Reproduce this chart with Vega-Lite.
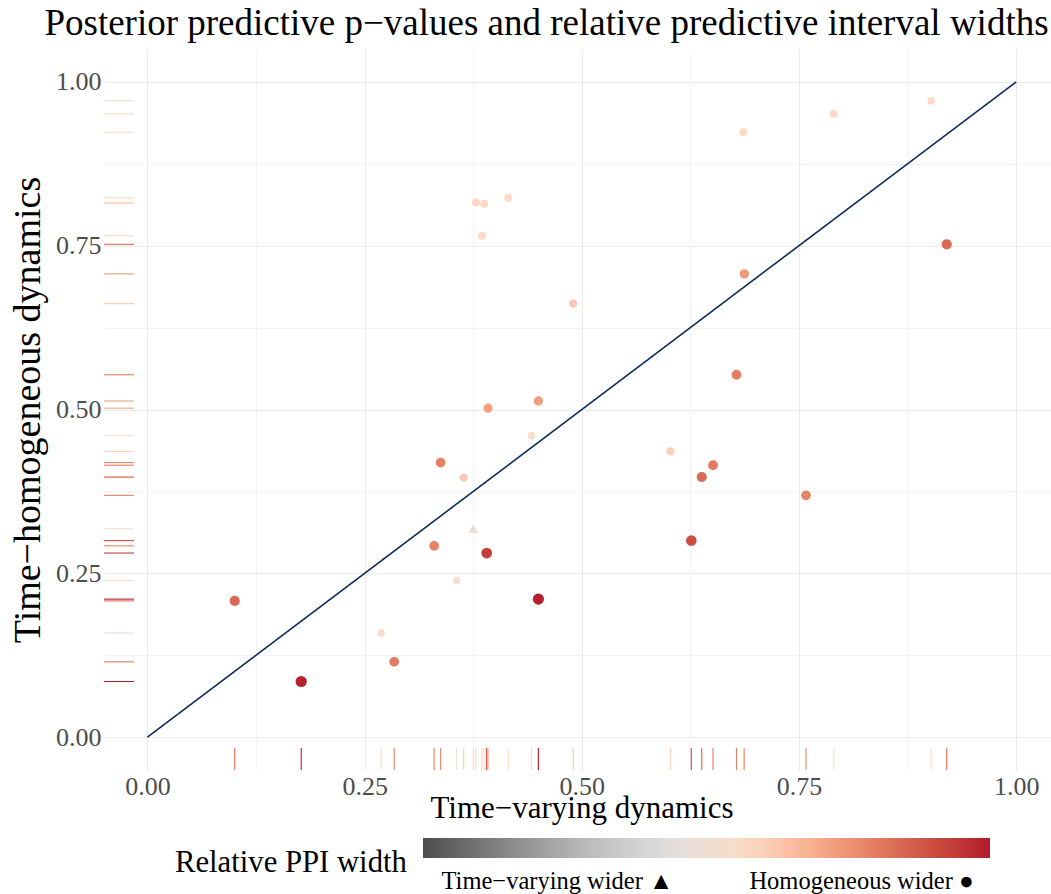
{
  "$schema": "https://vega.github.io/schema/vega-lite/v6.json",
  "width": 947,
  "height": 721,
  "autosize": {"type": "none"},
  "padding": {"left": 104, "top": 49, "right": 0, "bottom": 124},
  "background": "white",
  "title": {"text": "Posterior predictive p−values and relative predictive interval widths", "font": "Liberation Serif", "fontSize": 37, "fontWeight": "normal", "color": "black", "anchor": "middle", "dx": -31, "offset": -23, "baseline": "alphabetic"},
  "config": {"view": {"stroke": null}},
  "data": {"values": [
    {"tv": 0.1005, "th": 0.208, "rel": 0.68, "wider": "Homogeneous"},
    {"tv": 0.177, "th": 0.085, "rel": 0.97, "wider": "Homogeneous"},
    {"tv": 0.269, "th": 0.159, "rel": 0.07, "wider": "Homogeneous"},
    {"tv": 0.284, "th": 0.115, "rel": 0.6, "wider": "Homogeneous"},
    {"tv": 0.330, "th": 0.292, "rel": 0.58, "wider": "Homogeneous"},
    {"tv": 0.3375, "th": 0.419, "rel": 0.58, "wider": "Homogeneous"},
    {"tv": 0.356, "th": 0.239, "rel": 0.05, "wider": "Homogeneous"},
    {"tv": 0.364, "th": 0.396, "rel": 0.24, "wider": "Homogeneous"},
    {"tv": 0.375, "th": 0.318, "rel": -0.03, "wider": "Time-varying"},
    {"tv": 0.378, "th": 0.816, "rel": 0.16, "wider": "Homogeneous"},
    {"tv": 0.385, "th": 0.765, "rel": 0.15, "wider": "Homogeneous"},
    {"tv": 0.3875, "th": 0.814, "rel": 0.16, "wider": "Homogeneous"},
    {"tv": 0.3905, "th": 0.281, "rel": 0.86, "wider": "Homogeneous"},
    {"tv": 0.392, "th": 0.502, "rel": 0.45, "wider": "Homogeneous"},
    {"tv": 0.4154, "th": 0.823, "rel": 0.15, "wider": "Homogeneous"},
    {"tv": 0.442, "th": 0.460, "rel": 0.06, "wider": "Homogeneous"},
    {"tv": 0.450, "th": 0.513, "rel": 0.46, "wider": "Homogeneous"},
    {"tv": 0.450, "th": 0.2107, "rel": 0.98, "wider": "Homogeneous"},
    {"tv": 0.490, "th": 0.6615, "rel": 0.24, "wider": "Homogeneous"},
    {"tv": 0.602, "th": 0.436, "rel": 0.2, "wider": "Homogeneous"},
    {"tv": 0.626, "th": 0.300, "rel": 0.8, "wider": "Homogeneous"},
    {"tv": 0.638, "th": 0.397, "rel": 0.68, "wider": "Homogeneous"},
    {"tv": 0.651, "th": 0.415, "rel": 0.6, "wider": "Homogeneous"},
    {"tv": 0.686, "th": 0.923, "rel": 0.14, "wider": "Homogeneous"},
    {"tv": 0.687, "th": 0.707, "rel": 0.48, "wider": "Homogeneous"},
    {"tv": 0.678, "th": 0.553, "rel": 0.6, "wider": "Homogeneous"},
    {"tv": 0.758, "th": 0.369, "rel": 0.57, "wider": "Homogeneous"},
    {"tv": 0.790, "th": 0.951, "rel": 0.15, "wider": "Homogeneous"},
    {"tv": 0.902, "th": 0.971, "rel": 0.12, "wider": "Homogeneous"},
    {"tv": 0.920, "th": 0.752, "rel": 0.68, "wider": "Homogeneous"}
  ]},
  "layer": [
    {
      "mark": {"type": "rule", "strokeWidth": 1.1},
      "encoding": {
        "x": {"field": "tv", "type": "quantitative", "scale": {"domain": [-0.05, 1.04], "nice": false, "zero": false},
          "axis": {"title": "Time−varying dynamics", "values": [0, 0.125, 0.25, 0.375, 0.5, 0.625, 0.75, 0.875, 1], "labelExpr": "datum.value % 0.25 == 0 ? format(datum.value, '.2f') : ''", "grid": true, "gridColor": "#ebebeb", "gridWidth": {"condition": {"test": "datum.value % 0.25 == 0", "value": 1.1}, "value": 0.55}, "domain": false, "ticks": false, "labelFont": "Liberation Serif", "labelFontSize": 26, "labelColor": "#4d4d4d", "labelPadding": 3, "labelFlush": false, "labelOverlap": false, "titleFont": "Liberation Serif", "titleFontSize": 31, "titleFontWeight": "normal", "titleColor": "black", "titlePadding": -6, "titleX": 477.5}},
        "y": {"datum": -0.05, "type": "quantitative", "scale": {"domain": [-0.05, 1.05], "nice": false, "zero": false},
          "axis": {"title": "Time−homogeneous dynamics", "values": [0, 0.125, 0.25, 0.375, 0.5, 0.625, 0.75, 0.875, 1], "labelExpr": "datum.value % 0.25 == 0 ? format(datum.value, '.2f') : ''", "grid": true, "gridColor": "#ebebeb", "gridWidth": {"condition": {"test": "datum.value % 0.25 == 0", "value": 1.1}, "value": 0.55}, "domain": false, "ticks": false, "labelFont": "Liberation Serif", "labelFontSize": 26, "labelColor": "#4d4d4d", "labelPadding": 3, "labelOverlap": false, "titleFont": "Liberation Serif", "titleFontSize": 38, "titleFontWeight": "normal", "titleColor": "black", "titlePadding": 8}},
        "y2": {"datum": -0.0164},
        "stroke": {"field": "rel", "type": "quantitative", "scale": {"domain": [-1.00001, -0.7143, -0.4286, -0.1429, 0.1429, 0.4286, 0.7143, 1.00001], "range": ["#4d4d4d", "#878787", "#bababa", "#e0e0e0", "#fddbc7", "#f4a582", "#d6604d", "#b2182b"], "interpolate": "lab"}, "legend": null}
      }
    },
    {
      "mark": {"type": "rule", "strokeWidth": 1.1},
      "encoding": {
        "y": {"field": "th", "type": "quantitative", "scale": {"domain": [-0.05, 1.05], "nice": false, "zero": false}},
        "x": {"datum": -0.05, "type": "quantitative", "scale": {"domain": [-0.05, 1.04], "nice": false, "zero": false}},
        "x2": {"datum": -0.0155},
        "stroke": {"field": "rel", "type": "quantitative", "scale": {"domain": [-1.00001, -0.7143, -0.4286, -0.1429, 0.1429, 0.4286, 0.7143, 1.00001], "range": ["#4d4d4d", "#878787", "#bababa", "#e0e0e0", "#fddbc7", "#f4a582", "#d6604d", "#b2182b"], "interpolate": "lab"}, "legend": null}
      }
    },
    {
      "data": {"values": [{"k": 1}]},
      "mark": {"type": "rule", "strokeWidth": 1.6, "color": "#0c2c5a"},
      "encoding": {
        "x": {"datum": 0, "type": "quantitative"},
        "y": {"datum": 0, "type": "quantitative"},
        "x2": {"datum": 1},
        "y2": {"datum": 1}
      }
    },
    {
      "transform": [{"calculate": "abs(datum.rel)", "as": "mag"}],
      "mark": {"type": "point", "filled": true, "opacity": 1, "strokeWidth": 0},
      "encoding": {
        "x": {"field": "tv", "type": "quantitative"},
        "y": {"field": "th", "type": "quantitative"},
        "fill": {"field": "rel", "type": "quantitative", "scale": {"domain": [-1, -0.7143, -0.4286, -0.1429, 0.1429, 0.4286, 0.7143, 1], "range": ["#4d4d4d", "#878787", "#bababa", "#e0e0e0", "#fddbc7", "#f4a582", "#d6604d", "#b2182b"], "interpolate": "lab"},
          "legend": {"type": "gradient", "orient": "none", "legendX": 71, "legendY": 789, "direction": "horizontal", "gradientLength": 567, "gradientThickness": 20, "gradientStrokeWidth": 0, "title": "Relative PPI width", "titleOrient": "left", "titleBaseline": "top", "titleFont": "Liberation Serif", "titleFontSize": 30.7, "titleFontWeight": "normal", "titleColor": "black", "titlePadding": 16, "values": [-0.526, 0.547], "labelExpr": "datum.value < 0 ? 'Time−varying wider ▲' : 'Homogeneous wider ●'", "labelFont": "Liberation Serif", "labelFontSize": 24.5, "labelColor": "black", "labelOffset": 12, "labelOverlap": false, "labelLimit": 400, "titleLimit": 400}},
        "shape": {"field": "wider", "type": "nominal", "scale": {"domain": ["Time-varying", "Homogeneous"], "range": ["triangle-up", "circle"]}, "legend": null},
        "size": {"field": "mag", "type": "quantitative", "scale": {"domain": [0.03, 0.05, 1], "range": [100, 55, 128]}, "legend": null}
      }
    }
  ]
}
